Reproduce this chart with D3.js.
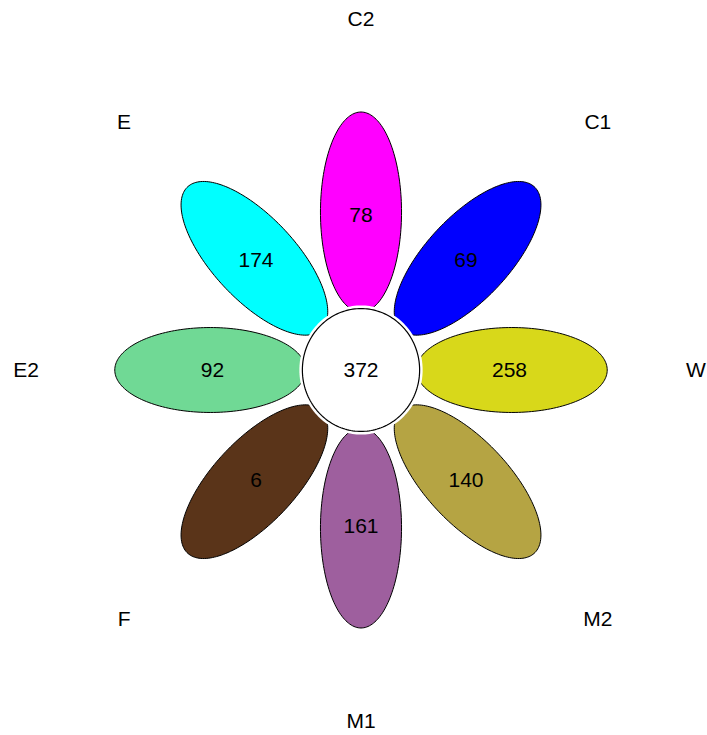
<!doctype html>
<html lang="en">
<head>
<meta charset="UTF-8">
<title>Flower plot</title>
<script src="https://d3js.org/d3.v7.min.js"></script>
<style>
  body { margin: 0; background: #fff; }
  text { font-family: "Liberation Sans", Arial, sans-serif; font-size: 21px; fill: #000; }
</style>
</head>
<body>
<div id="chart"></div>
<script>
// data
var samples = ["C2", "C1", "W", "M2", "M1", "F", "E2", "E"];
var uniqueCounts = [78, 69, 258, 140, 161, 6, 92, 174];
var coreCount = 372;
var petalColors = ["#ff00ff", "#0000ff", "#d8d81a", "#b5a443", "#9e5f9e", "#5a3419", "#70d995", "#00ffff"];
// angles in degrees, counter-clockwise from east
var angles = [90, 45, 0, -45, -90, -135, 180, 135];

var width = 707, height = 735;

var x = d3.scaleLinear().domain([-1, 1]).range([26, 696]);
var y = d3.scaleLinear().domain([-1, 1]).range([721, 19]);

var petalDist = 0.45, petalA = 0.285, petalB = 0.121;
var coreR = 0.175, labelDist = 1.0;

var svg = d3.select("#chart").append("svg")
  .attr("width", width)
  .attr("height", height);

var line = d3.line()
  .x(function(p){ return x(p[0]); })
  .y(function(p){ return y(p[1]); })
  .curve(d3.curveLinearClosed);

function ellipsePts(cx, cy, a, b, theta){
  return d3.range(0, 360, 2).map(function(t){
    var r = t * Math.PI / 180;
    var ex = a * Math.cos(r), ey = b * Math.sin(r);
    return [cx + ex * Math.cos(theta) - ey * Math.sin(theta),
            cy + ex * Math.sin(theta) + ey * Math.cos(theta)];
  });
}

var petals = samples.map(function(s, i){
  var th = angles[i] * Math.PI / 180;
  return {
    name: s,
    value: uniqueCounts[i],
    color: petalColors[i],
    th: th,
    cx: petalDist * Math.cos(th),
    cy: petalDist * Math.sin(th)
  };
});

// petals
svg.selectAll("path.petal")
  .data(petals)
  .enter().append("path")
    .attr("class", "petal")
    .attr("d", function(d){ return line(ellipsePts(d.cx, d.cy, petalA, petalB, d.th)); })
    .attr("fill", function(d){ return d.color; })
    .attr("stroke", "#000")
    .attr("stroke-width", 1);

// white band + core circle
svg.append("path")
  .attr("d", line(ellipsePts(0, 0, coreR + 0.009, coreR + 0.009, 0)))
  .attr("fill", "#fff");
svg.append("path")
  .attr("d", line(ellipsePts(0, 0, coreR, coreR, 0)))
  .attr("fill", "#fff")
  .attr("stroke", "#000")
  .attr("stroke-width", 1.2);

// counts
svg.selectAll("text.count")
  .data(petals)
  .enter().append("text")
    .attr("class", "count")
    .attr("x", function(d){ return x(d.cx * 0.985); })
    .attr("y", function(d){ return y(d.cy * 0.985); })
    .attr("text-anchor", "middle")
    .attr("dy", "0.35em")
    .text(function(d){ return d.value; });

svg.append("text")
  .attr("x", x(0))
  .attr("y", y(0))
  .attr("text-anchor", "middle")
  .attr("dy", "0.35em")
  .text(coreCount);

// sample names
svg.selectAll("text.name")
  .data(petals)
  .enter().append("text")
    .attr("class", "name")
    .attr("x", function(d){ return x(labelDist * Math.cos(d.th)); })
    .attr("y", function(d){ return y(labelDist * Math.sin(d.th)); })
    .attr("text-anchor", "middle")
    .attr("dy", "0.35em")
    .text(function(d){ return d.name; });
</script>
</body>
</html>
